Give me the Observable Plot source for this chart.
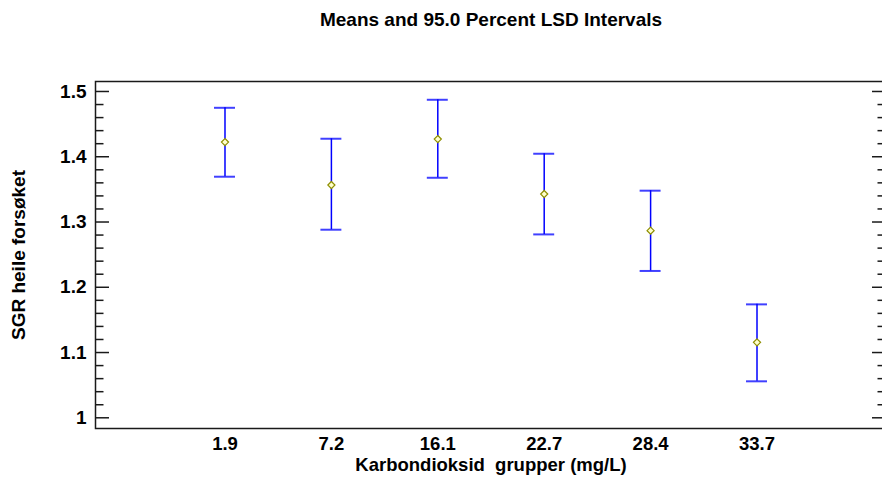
<!DOCTYPE html>
<html>
<head>
<meta charset="utf-8">
<script src="https://cdn.jsdelivr.net/npm/d3@7"></script>
<script src="https://cdn.jsdelivr.net/npm/@observablehq/plot@0.6"></script>
<style>
  body { margin: 0; background: #fff; overflow: hidden; }
  svg text { white-space: pre; }
</style>
</head>
<body>
<div id="chart"></div>
<script>
// CO2 groups and mean SGR with 95% LSD intervals
let groups = ["1.9", "7.2", "16.1", "22.7", "28.4", "33.7"];
let means = [1.4225, 1.3567, 1.4271, 1.3429, 1.2867, 1.1156];
let lower = [1.3694, 1.2882, 1.3678, 1.2810, 1.2250, 1.0559];
let upper = [1.4750, 1.4276, 1.4873, 1.4046, 1.3480, 1.1738];
let yTicks = [1, 1.1, 1.2, 1.3, 1.4, 1.5];
let yMinor = d3.ticks(1, 1.5, 25).filter((t) => !yTicks.some((m) => Math.abs(m - t) < 1e-9));

let titleText = "Means and 95.0 Percent LSD Intervals";
let xLabel = "Karbondioksid  grupper (mg/L)";
let yLabel = "SGR heile forsøket";

let data = groups.map((g, i) => ({ group: g, mean: means[i], lo: lower[i], hi: upper[i] }));

let blue = "#0000ff";
let ink = "#1a1a1a";
// the plot frame runs a little past the right edge of the picture
let mL = 95, mR = -4, W = 882;
let frameW = W - mL - mR;

let chart = Plot.plot({
  width: W,
  height: 483,
  marginLeft: mL,
  marginRight: mR,
  marginTop: 81,
  marginBottom: 55,
  style: {
    fontFamily: "'Liberation Sans', Arial, sans-serif",
    fontSize: "19px",
    fontWeight: "bold",
    color: "#000",
    background: "#fff",
    overflow: "hidden"
  },
  // band width = cap width of the interval whiskers
  x: { type: "band", domain: groups, paddingInner: 0.803, paddingOuter: 1.1185, align: 0.5, round: false },
  y: { domain: [0.9836, 1.5153] },
  marks: [
    Plot.frame({ stroke: ink, strokeWidth: 1.5 }),
    // y tick labels and title
    Plot.axisY({ ticks: yTicks, tickSize: 0, tickPadding: 9, tickFormat: (d) => String(d), label: yLabel, labelAnchor: "center", labelArrow: "none", labelOffset: 84, fontSize: 19 }),
    // inward ticks on the left and right frame edges
    Plot.tickY(yTicks, { y: (d) => d, insetRight: frameW - 14, stroke: ink, strokeWidth: 1.5 }),
    Plot.tickY(yMinor, { y: (d) => d, insetRight: frameW - 8.5, stroke: ink, strokeWidth: 1.5 }),
    Plot.tickY(yTicks, { y: (d) => d, insetLeft: frameW - 14, stroke: ink, strokeWidth: 1.5 }),
    Plot.tickY(yMinor, { y: (d) => d, insetLeft: frameW - 8.5, stroke: ink, strokeWidth: 1.5 }),
    Plot.axisX({ tickSize: 0, tickPadding: 8.5, label: xLabel, labelAnchor: "center", labelArrow: "none", labelOffset: 42, fontSize: 18.5 }),
    // LSD intervals
    Plot.ruleX(data, { x: "group", y1: "lo", y2: "hi", stroke: blue, strokeWidth: 1.5 }),
    Plot.tickY(data, { x: "group", y: "hi", stroke: blue, strokeWidth: 2, strokeOpacity: 0.75 }),
    Plot.tickY(data, { x: "group", y: "lo", stroke: blue, strokeWidth: 2, strokeOpacity: 0.75 }),
    // means
    Plot.dot(data, { x: "group", y: "mean", symbol: "diamond2", r: 3.2, stroke: "#8f8f00", strokeWidth: 1.2, fill: "#ffffcc" }),
    // title
    Plot.text([titleText], { frameAnchor: "top", dy: -69, fontSize: 19, fontWeight: "bold", fill: "#000" })
  ]
});

d3.select("#chart").append(() => chart);
</script>
</body>
</html>
